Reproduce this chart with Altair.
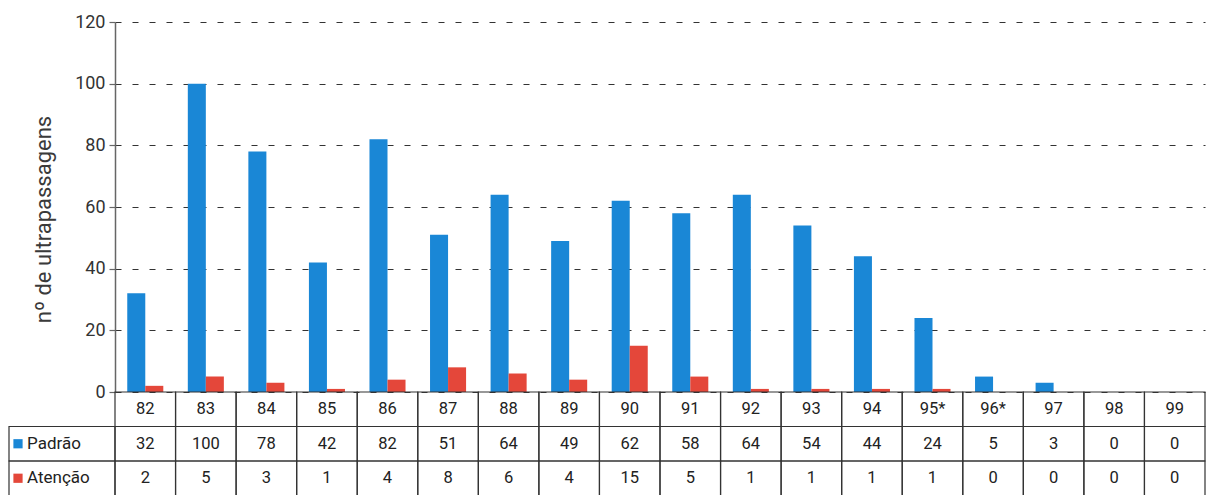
import altair as alt
import pandas as pd

# ---- data ----
anos = ["82", "83", "84", "85", "86", "87", "88", "89", "90", "91", "92",
        "93", "94", "95*", "96*", "97", "98", "99"]
padrao = [32, 100, 78, 42, 82, 51, 64, 49, 62, 58, 64, 54, 44, 24, 5, 3, 0, 0]
atencao = [2, 5, 3, 1, 4, 8, 6, 4, 15, 5, 1, 1, 1, 1, 0, 0, 0, 0]
series = ["Padrão", "Atenção"]
series_colors = ["#1a87d6", "#e4473a"]
y_ticks = [0, 20, 40, 60, 80, 100, 120]
y_title = "nº de ultrapassagens"
table_rows = ["ano", "Padrão", "Atenção"]

W = 1090
H = 370
ROW_H = 34.5
FONT = "Roboto"

bars = pd.DataFrame({
    "ano": anos * 2,
    "serie": [series[0]] * len(anos) + [series[1]] * len(anos),
    "valor": padrao + atencao,
})

cells = pd.DataFrame({
    "ano": anos * 3,
    "linha": [table_rows[0]] * len(anos) + [table_rows[1]] * len(anos) + [table_rows[2]] * len(anos),
    "texto": anos + [str(v) for v in padrao] + [str(v) for v in atencao],
})
labels = pd.DataFrame({"linha": series, "serie": series})

x_scale = alt.Scale(domain=anos, paddingInner=0, paddingOuter=0)
color_scale = alt.Scale(domain=series, range=series_colors)
row_scale = alt.Scale(domain=table_rows, paddingInner=0, paddingOuter=0,
                      range=[H, H + 3 * ROW_H])

x_col = alt.X("ano:N", scale=x_scale, sort=anos, axis=None)

top = alt.Chart(bars).mark_bar().encode(
    x=x_col,
    xOffset=alt.XOffset("serie:N", sort=series,
                        scale=alt.Scale(domain=series, paddingInner=0, paddingOuter=0.68)),
    y=alt.Y("valor:Q",
            scale=alt.Scale(domain=[0, 120], nice=False, range=[H, 0]),
            axis=alt.Axis(values=y_ticks, title=y_title, grid=True,
                          gridDash=[6, 11], gridColor="#333333", gridWidth=1.2,
                          domainColor="#666666", domainWidth=1.5,
                          tickColor="#666666", tickSize=6, tickWidth=1.2,
                          labelFontSize=18, labelColor="#333333", labelFont=FONT,
                          labelPadding=4,
                          titleFontSize=22, titleFontWeight="normal",
                          titleColor="#3a3a3a", titleFont=FONT, titlePadding=19,
                          titleY=H / 2 + 12)),
    color=alt.Color("serie:N", scale=color_scale, legend=None),
)

y_row = alt.Y("linha:N", scale=row_scale, sort=table_rows, axis=None)

grid_cells = alt.Chart(cells).mark_rect(fillOpacity=0, stroke="#333333", strokeWidth=1.2).encode(
    x=x_col, y=y_row)
grid_text = alt.Chart(cells).mark_text(fontSize=16.5, font=FONT, color="#222222", baseline="middle").encode(
    x=x_col, y=y_row, text="texto:N")
label_cells = alt.Chart(labels).mark_rect(fillOpacity=0, stroke="#333333", strokeWidth=1.2).encode(
    x=alt.value(-106), x2=alt.value(0), y=y_row)
label_squares = alt.Chart(labels).mark_point(shape="square", filled=True, size=85, opacity=1).encode(
    x=alt.value(-97), y=y_row,
    color=alt.Color("serie:N", scale=color_scale, legend=None))
label_text = alt.Chart(labels).mark_text(align="left", baseline="middle", fontSize=17, font=FONT,
                                        color="#222222").encode(
    x=alt.value(-88), y=y_row, text="serie:N")

table = alt.layer(grid_cells, grid_text, label_cells, label_squares, label_text)

chart = alt.layer(top, table).resolve_scale(y="independent").properties(
    width=W, height=H + 3 * ROW_H,
    padding={"left": 0, "top": 5, "right": 2, "bottom": 0}
).configure_view(strokeWidth=0)

chart.save("out.html", embed_options={"renderer": "svg", "actions": False})
